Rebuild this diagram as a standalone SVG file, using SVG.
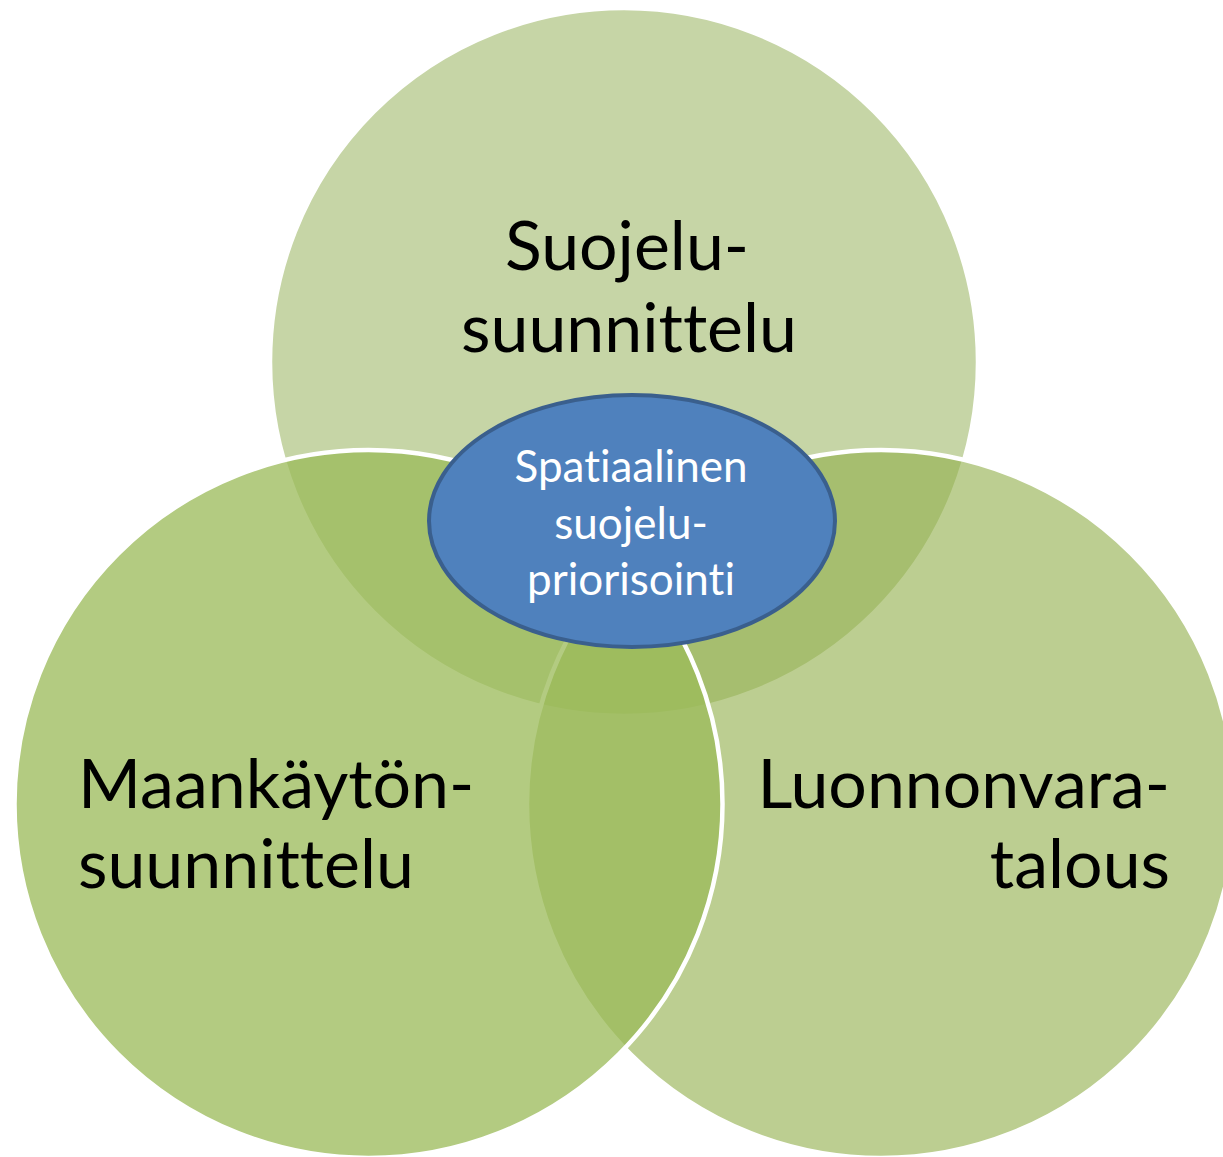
<svg xmlns="http://www.w3.org/2000/svg" width="1223" height="1157" viewBox="0 0 1223 1157">
  <style>
    .ring { stroke: #ffffff; stroke-width: 4.5; }
    .big { font-family: "Lato", "Liberation Sans", sans-serif; font-size: 68px; fill: #000000; font-variant-ligatures: none; }
    .small { font-family: "Lato", "Liberation Sans", sans-serif; font-size: 44px; fill: #ffffff; text-anchor: middle; font-variant-ligatures: none; }
  </style>
  <rect width="1223" height="1157" fill="#ffffff"/>
  <g id="node-suojelu">
    <circle class="ring" cx="624" cy="362" r="354" fill="#c6d5a6"/>
  </g>
  <g id="node-luonnonvara">
    <circle class="ring" cx="881" cy="804" r="354" fill="#93b04e" fill-opacity="0.62"/>
  </g>
  <g id="node-maankaytto">
    <circle class="ring" cx="368.5" cy="804" r="354" fill="#9bbb59" fill-opacity="0.76"/>
  </g>
  <g id="node-spatiaalinen">
    <ellipse cx="632" cy="521" rx="203" ry="126" fill="#4f81bd" stroke="#3a5f8d" stroke-width="4"/>
  </g>
  <g id="labels">
    <text class="big" x="627" y="270" text-anchor="middle">Suojelu-</text>
    <text class="big" x="629" y="352" text-anchor="middle">suunnittelu</text>
    <text class="big" x="78" y="808">Maankäytön-</text>
    <text class="big" x="78" y="888">suunnittelu</text>
    <text class="big" x="1170" y="808" text-anchor="end">Luonnonvara-</text>
    <text class="big" x="1170" y="888" text-anchor="end">talous</text>
    <text class="small" x="631" y="482">Spatiaalinen</text>
    <text class="small" x="631" y="539">suojelu-</text>
    <text class="small" x="631" y="595">priorisointi</text>
  </g>
</svg>
